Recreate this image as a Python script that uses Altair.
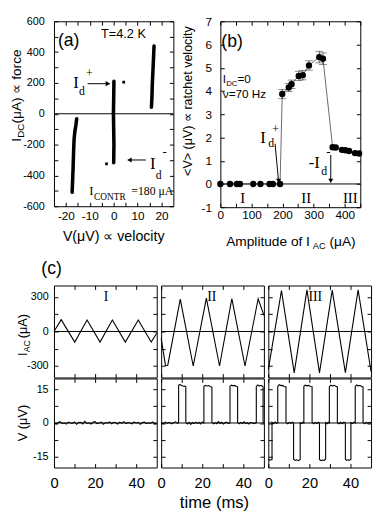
import altair as alt
import pandas as pd

SANS = "Liberation Sans"
SERIF = "Liberation Serif"

# ---------------- data ----------------
# (a) I-V characteristic: V (uV) vs I_DC (uA), three branches + two isolated dots
a_left_v = [-15.5, -15.8, -16.3, -16.6, -16.8, -17.0, -17.2, -17.4]
a_left_i = [-32, -70, -120, -170, -250, -350, -430, -510]
a_mid_v = [0.0, 0.1, 0.0, -0.1, 0.0, 0.1]
a_mid_i = [-318, -200, -100, 0, 100, 210]
a_right_v = [15.8, 16.0, 16.2, 16.5, 16.9]
a_right_i = [42, 100, 200, 300, 440]
a_dot_v = [4.2, -3.0]
a_dot_i = [205, -325]

# (b) mean voltage (ratchet velocity) vs amplitude of I_AC
b_amp = [0, 31, 53, 63, 106, 129, 158, 169, 192,
         199, 220, 229, 252, 265, 285, 318, 330,
         361, 371, 391, 402, 414, 433, 446]
b_vel = [0, 0, 0, 0, 0, 0, 0, 0, 0,
         3.87, 4.15, 4.29, 4.65, 4.68, 5.10, 5.46, 5.39,
         1.58, 1.57, 1.47, 1.45, 1.42, 1.33, 1.31]
b_err = [0, 0, 0, 0, 0, 0, 0, 0, 0,
         0.20, 0.18, 0.18, 0.20, 0.20, 0.20, 0.25, 0.25,
         0, 0, 0, 0, 0, 0, 0]

# (c) I_AC(t) triangle waves, regime I, II, III
c1_t = [0, 3.5, 10.1, 16.1, 22.4, 28.4, 34.7, 41.0, 47.3, 50]
c1_i = [0, 103, -92, 100, -92, 100, -92, 100, -92, -15]
c2_t = [0, 2.1, 3.2, 9.3, 15.6, 22.0, 28.4, 34.4, 40.8, 47.2, 50]
c2_i = [-60, -295, -295, 282, -300, 290, -300, 285, -300, 285, 140]
c3_t = [0, 6.4, 12.6, 18.8, 24.9, 31.1, 37.5, 43.7, 50]
c3_i = [-330, 355, -360, 362, -360, 360, -358, 362, -350]

# (c) V(t) traces
v1_t = [0, 1, 2, 3, 4, 5, 6, 7, 8, 9, 10, 11, 12, 13, 14, 15, 16, 17, 18, 19, 20,
        21, 22, 23, 24, 25, 26, 27, 28, 29, 30, 31, 32, 33, 34, 35, 36, 37, 38, 39, 40,
        41, 42, 43, 44, 45, 46, 47, 48, 49, 50]
v1_v = [0.3, -0.4, 0.2, 0.6, -0.3, 0.1, -0.5, 0.4, 0.0, -0.2, 0.5, -0.6, 0.2, 0.3, -0.4, 0.8,
        -0.2, 0.1, -0.5, 0.3, 0.6, -0.3, 0.0, 0.4, -0.6, 0.2, -0.1, 0.5, -0.4, 0.3, 0.1,
        -0.5, 0.4, -0.2, 0.6, -0.3, 0.2, 0.0, -0.4, 0.5, -0.1, 0.3, -0.6, 0.2, 0.4, -0.3,
        0.1, -0.2, 0.5, -0.4, 0.0]
v2_t = [0, 1, 2, 3, 4, 5, 6, 7, 8, 8.5,
        8.5, 9.2, 10.0, 10.8, 11.5, 12.0,
        12.0, 12.8, 13.6, 14.4, 15.2, 16.0, 16.8, 17.6, 18.4, 19.2, 20.0, 20.8,
        20.8, 21.5, 22.3, 23.1, 24.0, 24.7,
        24.7, 25.5, 26.3, 27.1, 27.9, 28.7, 29.5, 30.3, 31.1, 31.9, 32.7, 33.5,
        33.5, 34.2, 35.0, 35.8, 36.6, 37.2,
        37.2, 38.0, 38.8, 39.6, 40.4, 41.2, 42.0, 42.8, 43.6, 44.4, 45.2, 46.3,
        46.3, 47.0, 47.8, 48.6, 49.3, 49.6,
        49.6, 50]
v2_v = [0.2, -0.3, 0.4, -0.2, 0.3, -0.4, 0.1, 0.5, -0.2, 0.1,
        16.9, 17.3, 16.8, 16.5, 16.6, 16.3,
        0.2, -0.5, 0.3, -0.6, 0.2, -0.3, 0.4, -0.2, 0.3, -0.4, 0.5, 0.0,
        16.4, 16.9, 16.6, 16.8, 16.3, 16.2,
        0.3, -0.4, 0.2, -0.3, 0.6, -0.2, 0.3, -0.5, 0.1, 0.4, -0.3, 0.1,
        16.5, 17.0, 16.7, 16.9, 16.4, 16.3,
        0.2, -0.4, 0.3, -0.2, 0.5, -0.3, 0.1, -0.5, 0.3, 0.0, -0.3, 0.2,
        16.4, 17.1, 16.6, 16.9, 16.5, 16.2,
        0.3, 0.0]
v3_t = [0, 0.8, 1.8,
        1.8, 2.5, 3.3, 4.0, 4.6,
        4.6, 5.3, 6.1, 6.9, 7.7, 8.6,
        8.6, 9.4, 10.2, 11.0, 11.7, 12.3,
        12.3, 13.1, 13.9, 14.7, 15.5,
        15.5, 16.2, 16.8, 17.3,
        17.3, 18.0, 18.8, 19.6, 20.5, 21.3,
        21.3, 22.1, 22.9, 23.7, 24.3, 24.9,
        24.9, 25.6, 26.4, 27.2, 27.9,
        27.9, 28.6, 29.2, 29.7,
        29.7, 30.4, 31.2, 32.0, 32.8, 33.6,
        33.6, 34.4, 35.2, 36.0, 36.8, 37.5,
        37.5, 38.2, 39.0, 39.6, 40.2,
        40.2, 41.0, 41.7, 42.3,
        42.3, 43.0, 43.8, 44.6, 45.4, 46.1,
        46.1, 46.9, 47.7, 48.5, 49.3, 50]
v3_v = [-16.2, -16.7, -16.4,
        0.3, -0.3, 0.4, -0.2, 0.1,
        16.4, 17.2, 16.8, 16.9, 16.4, 16.2,
        0.2, -0.4, 0.3, -0.2, 0.4, 0.0,
        -16.3, -16.8, -16.5, -16.9, -16.4,
        0.1, -0.3, 0.3, 0.0,
        16.5, 17.0, 16.7, 16.9, 16.4, 16.3,
        0.2, -0.4, 0.3, -0.2, 0.4, 0.0,
        -16.4, -16.9, -16.6, -16.8, -16.3,
        0.2, -0.3, 0.3, 0.0,
        16.3, 17.0, 16.6, 16.9, 16.5, 16.2,
        0.1, -0.4, 0.3, -0.3, 0.4, 0.0,
        -16.3, -16.8, -16.5, -16.7, -16.4,
        0.2, -0.3, 0.4, 0.0,
        16.4, 17.1, 16.6, 16.9, 16.4, 16.2,
        0.2, -0.4, 0.3, -0.2, 0.3, 0.1]


# ---------------- helpers ----------------
def axis(values, expr=None, size=11, pad=3, labels=True, orient=None):
    kw = dict(values=values, title=None, domain=False, grid=False, ticks=True,
              tickSize=4, tickColor="black", tickWidth=1, offset=-4,
              labelFont=SANS, labelFontSize=size, labelColor="black",
              labelPadding=pad, labelFlush=False, labelOverlap=False)
    if orient:
        kw["orient"] = orient
    if labels:
        kw["labelExpr"] = expr or "'' + datum.value"
    else:
        kw["labels"] = False
    return alt.Axis(**kw)


def label(s, x, y, size, font=SANS, align="left", baseline="alphabetic", angle=0):
    return alt.Chart(alt.Data(values=[{}])).mark_text(
        text=s, font=font, fontSize=size, color="black",
        align=align, baseline=baseline, angle=angle
    ).encode(x=alt.value(x), y=alt.value(y))


def anchor(x0, x1, y0, y1):
    return alt.Chart(alt.Data(values=[{}])).mark_rect(opacity=0).encode(
        x=alt.value(x0), x2=alt.value(x1), y=alt.value(y0), y2=alt.value(y1))


class Frame:
    """Scales/axes of one panel: the primary layer draws left/bottom axes,
    a mirror layer draws inward ticks on top/right, other layers have no axis."""

    def __init__(self, xf, yf, xdom, ydom, xvals, yvals, xexpr, yexpr,
                 xsize, ysize, xpad, ypad, xlab=True, ylab=True):
        self.xf, self.yf = xf, yf
        self.xdom, self.ydom = xdom, ydom
        self.xs = alt.Scale(domain=xdom, nice=False, zero=False)
        self.ys = alt.Scale(domain=ydom, nice=False, zero=False)
        self.xax = axis(xvals, xexpr, xsize, xpad, labels=xlab)
        self.yax = axis(yvals, yexpr, ysize, ypad, labels=ylab)
        self.xax2 = axis(xvals, labels=False, orient="top")
        self.yax2 = axis(yvals, labels=False, orient="right")

    def X(self, primary=False, field=None):
        return alt.X(f"{field or self.xf}:Q", scale=self.xs, axis=self.xax if primary else None)

    def Y(self, primary=False, field=None):
        return alt.Y(f"{field or self.yf}:Q", scale=self.ys, axis=self.yax if primary else None)

    def mirror(self):
        return alt.Chart(pd.DataFrame({self.xf: [self.xdom[0]], self.yf: [self.ydom[0]]})
                         ).mark_point(opacity=0, size=1).encode(
            x=alt.X(f"{self.xf}:Q", scale=self.xs, axis=self.xax2),
            y=alt.Y(f"{self.yf}:Q", scale=self.ys, axis=self.yax2))


def cell(layers, w, h):
    return alt.layer(*layers).resolve_axis(x="independent", y="independent").properties(
        width=w, height=h)


# ---------------- panel (a) ----------------
WA, HA = 122, 189
FA = Frame("v", "i", [-25, 25], [-600, 600],
           [-20, -15, -10, -5, 0, 5, 10, 15, 20],
           [-600, -500, -400, -300, -200, -100, 0, 100, 200, 300, 400, 500, 600],
           "datum.value % 10 == 0 ? '' + datum.value : ''",
           "datum.value % 200 == 0 ? '' + datum.value : ''",
           12, 11, 5, 10)

branches = pd.concat([
    pd.DataFrame({"v": a_left_v, "i": a_left_i, "b": "left"}),
    pd.DataFrame({"v": a_mid_v, "i": a_mid_i, "b": "mid"}),
    pd.DataFrame({"v": a_right_v, "i": a_right_i, "b": "right"}),
], ignore_index=True)
branches["k"] = range(len(branches))

a_zero = alt.Chart(pd.DataFrame({"i": [0]})).mark_rule(color="black", strokeWidth=1).encode(y=FA.Y())
a_lines = alt.Chart(branches).mark_line(color="black", strokeWidth=3.6, strokeCap="round").encode(
    x=FA.X(True), y=FA.Y(True), detail="b:N", order="k:Q")
a_dots = alt.Chart(pd.DataFrame({"v": a_dot_v, "i": a_dot_i})).mark_square(
    color="black", size=8, opacity=1).encode(x=FA.X(), y=FA.Y())
a_arrows = alt.Chart(pd.DataFrame({"v": [-10.9, 13.5], "i": [195, -300],
                                   "v2": [-1.8, 6.4], "i2": [195, -300]})).mark_rule(
    color="black", strokeWidth=1).encode(x=FA.X(), y=FA.Y(), x2="v2:Q", y2="i2:Q")
a_heads = alt.Chart(pd.DataFrame({"v": [-2.4, 6.6], "i": [195, -300],
                                  "s": ["triangle-right", "triangle-left"]})).mark_point(
    filled=True, color="black", size=28, opacity=1).encode(
    x=FA.X(), y=FA.Y(), shape=alt.Shape("s:N", scale=None))

panel_a = cell([
    anchor(-46, WA + 2, -7, HA + 45),
    a_zero, a_lines, FA.mirror(), a_dots, a_arrows, a_heads,
    label("(a)", 4, 25, 18),
    label("T=4.2 K", 48, 17, 13),
    label("I", 22.4, 68, 17, SERIF, align="center"),
    label("d", 28.5, 75, 12, SERIF, align="center"),
    label("+", 36, 56.5, 12, SERIF, align="center"),
    label("I", 101, 151, 17, SERIF, align="center"),
    label("d", 107, 161, 12, SERIF, align="center"),
    label("-", 113, 137, 13, SERIF, align="center"),
    label("I", 36, 178, 13, SERIF),
    label("CONTR", 41, 183, 9.5, SERIF),
    label("=180 \u03bcA", 79, 178, 12, SERIF),
    label("I", -34, 123, 14, angle=270),
    label("DC", -31, 119, 10, angle=270),
    label("(\u03bcA) \u221d force", -34, 104.5, 14, angle=270),
    label("V(\u03bcV) \u221d velocity", WA / 2, 224.5, 14.5, align="center"),
], WA, HA)

# ---------------- panel (b) ----------------
WB, HB = 143, 190
FB = Frame("amp", "vel", [0, 450], [-1, 7],
           [0, 50, 100, 150, 200, 250, 300, 350, 400, 450],
           [-1, 0, 1, 2, 3, 4, 5, 6, 7],
           "datum.value % 100 == 0 && datum.value < 450 ? '' + datum.value : ''",
           None, 12, 12, 3, 9)

dfb = pd.DataFrame({"amp": b_amp, "vel": b_vel, "err": b_err})
dfb["lo"] = dfb["vel"] - dfb["err"]
dfb["hi"] = dfb["vel"] + dfb["err"]
dfe = dfb[dfb["err"] > 0]

b_zero = alt.Chart(pd.DataFrame({"vel": [0]})).mark_rule(color="black", strokeWidth=1).encode(y=FB.Y())
b_line = alt.Chart(dfb).mark_line(color="#444444", strokeWidth=0.8).encode(x=FB.X(True), y=FB.Y(True))
b_bars = alt.Chart(dfe).mark_rule(color="#333333", strokeWidth=0.8).encode(
    x=FB.X(), y=FB.Y(field="lo"), y2="hi:Q")
b_cap_lo = alt.Chart(dfe).mark_tick(color="#333333", thickness=0.8, size=8, orient="horizontal").encode(
    x=FB.X(), y=FB.Y(field="lo"))
b_cap_hi = alt.Chart(dfe).mark_tick(color="#333333", thickness=0.8, size=8, orient="horizontal").encode(
    x=FB.X(), y=FB.Y(field="hi"))
b_pts = alt.Chart(dfb).mark_circle(color="black", size=42, opacity=1).encode(x=FB.X(), y=FB.Y())
b_arrows = alt.Chart(pd.DataFrame({"amp": [176, 355], "vel": [1.73, 1.25],
                                   "amp2": [186.5, 355], "vel2": [0.2, 0.2]})).mark_rule(
    color="black", strokeWidth=1).encode(x=FB.X(), y=FB.Y(), x2="amp2:Q", y2="vel2:Q")
b_heads = alt.Chart(pd.DataFrame({"amp": [187, 355], "vel": [0.13, 0.13]})).mark_point(
    filled=True, color="black", size=26, opacity=1, shape="triangle-down").encode(x=FB.X(), y=FB.Y())

panel_b = cell([
    anchor(-41, WB + 6, -7, HB + 44),
    b_zero, b_line, FB.mirror(), b_bars, b_cap_lo, b_cap_hi, b_pts, b_arrows, b_heads,
    label("(b)", 1, 26.5, 18),
    label("I", 2.5, 63.5, 12),
    label("DC", 6, 66, 8),
    label("=0", 17.5, 63.5, 12),
    label("\u03bd=70 Hz", 2.5, 78, 12),
    label("I", 43.5, 124, 17, SERIF, align="center"),
    label("d", 52, 128, 12, SERIF, align="center"),
    label("+", 56.5, 114, 12, SERIF, align="center"),
    label("-I", 96, 150, 17, SERIF, align="center"),
    label("d", 106, 157, 12, SERIF, align="center"),
    label("-", 110.5, 137, 13, SERIF, align="center"),
    label("I", 22.7, 186, 15, SERIF, align="center"),
    label("II", 87.7, 186, 15, SERIF, align="center"),
    label("III", 132.7, 186, 15, SERIF, align="center"),
    label("<V> (\u03bcV) \u221d ratchet velocity", -29, 81.5, 12.8, align="center", angle=270),
    label("Amplitude of I", 6, 230, 14),
    label("AC", 94.5, 233, 9.5),
    label("(\u03bcA)", 111.5, 230, 14),
], WB, HB)

# ---------------- panel (c) ----------------
HT, HBOT = 94, 91
WC = [105, 105, 105]
TVALS = [0, 10, 20, 30, 40]
T_EXPR = "datum.value % 20 == 0 ? '' + datum.value : ''"


def top_cell(ts, vs, w, first, extra):
    F = Frame("t", "y", [0, 50], [-400, 400], TVALS, [-300, -150, 0, 150, 300],
              T_EXPR, "datum.value % 300 == 0 ? '' + datum.value : ''",
              15, 11, 8, 6, xlab=False, ylab=first)
    df = pd.DataFrame({"t": ts, "y": vs})
    df["k"] = range(len(df))
    zero = alt.Chart(pd.DataFrame({"y": [0]})).mark_rule(color="black", strokeWidth=1).encode(y=F.Y())
    wave = alt.Chart(df).mark_line(color="black", strokeWidth=1.1).encode(
        x=F.X(True), y=F.Y(True), order="k:Q")
    left = -39 if first else -1
    return cell([anchor(left, w + 1, -30, HT), zero, wave, F.mirror(), *extra], w, HT)


def bot_cell(ts, vs, w, first, extra):
    F = Frame("t", "y", [0, 50], [-20, 20], TVALS, [-15, -7.5, 0, 7.5, 15],
              T_EXPR, "datum.value % 15 == 0 ? '' + datum.value : ''",
              15, 11, 8, 6, xlab=True, ylab=first)
    df = pd.DataFrame({"t": ts, "y": vs})
    df["k"] = range(len(df))
    zero = alt.Chart(pd.DataFrame({"y": [0]})).mark_rule(color="black", strokeWidth=1).encode(y=F.Y())
    trace = alt.Chart(df).mark_line(color="black", strokeWidth=1.1).encode(
        x=F.X(True), y=F.Y(True), order="k:Q")
    left = -39 if first else -1
    return cell([anchor(left, w + 1, 0, HBOT), zero, trace, F.mirror(), *extra], w, HBOT)


c1t = top_cell(c1_t, c1_i, WC[0], True, [
    label("(c)", -13, -12, 18),
    label("I", 53.3, 16, 14, SERIF, align="center"),
    label("I", -28, 72, 13, angle=270),
    label("AC", -25, 68.3, 9, angle=270),
    label("(\u03bcA)", -28, 54, 13, angle=270),
])
c2t = top_cell(c2_t, c2_i, WC[1], False, [label("II", 51.7, 16, 14, SERIF, align="center")])
c3t = top_cell(c3_t, c3_i, WC[2], False, [label("III", 48, 16, 14, SERIF, align="center")])
c1b = bot_cell(v1_t, v1_v, WC[0], True, [
    label("V (\u03bcV)", -28, HBOT / 2, 13, align="center", angle=270)])
c2b = bot_cell(v2_t, v2_v, WC[1], False, [label("time (ms)", 54.5, 132, 17, align="center")])
c3b = bot_cell(v3_t, v3_v, WC[2], False, [])

row_top = alt.hconcat(panel_a, panel_b, spacing=48, bounds="flush")
c_top = alt.hconcat(c1t, c2t, c3t, spacing=4.5, bounds="flush")
c_bot = alt.hconcat(c1b, c2b, c3b, spacing=4.5, bounds="flush")
c_grp = alt.vconcat(c_top, c_bot, spacing=-1)

chart = alt.vconcat(row_top, c_grp, spacing=4).properties(padding=0).configure_view(
    stroke="black", strokeWidth=1)

chart.save("out.html", embed_options={"renderer": "svg", "actions": False})
